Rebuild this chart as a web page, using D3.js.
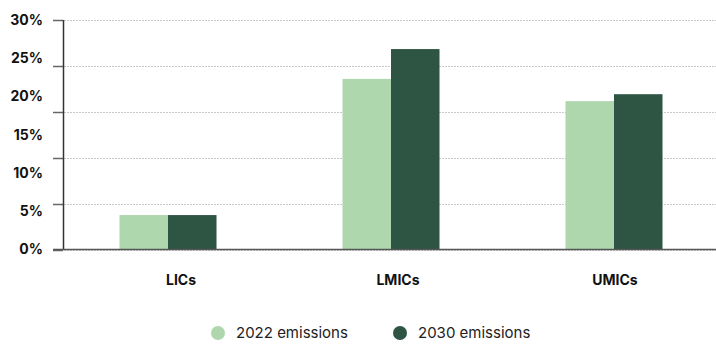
<!DOCTYPE html>
<html><head><meta charset="utf-8">
<script src="https://cdn.jsdelivr.net/npm/d3@7"></script>
<style>body{margin:0;background:#fff;} text{font-family:Inter, "Noto Sans", sans-serif;}</style>
</head><body><svg id="c" width="716" height="344"></svg>
<script>
const categories = ["LICs", "LMICs", "UMICs"];
const seriesNames = ["2022 emissions", "2030 emissions"];
const values2022 = [4.5, 22.3, 19.4];
const values2030 = [4.5, 26.2, 20.3];
const yLabelValues = [0, 5, 10, 15, 20, 25, 30];
const gridValues = [0, 6, 12, 18, 24, 30];
const colors = ["#aed7ae", "#2e5443"];

const svg = d3.select("#c");
const y = d3.scaleLinear().domain([0, 30]).range([249.5, 20]);
const xBars = d3.scaleBand().domain(categories).range([56.5, 725.5]).paddingInner(0.565).paddingOuter(0.2825);
const xInner = d3.scaleBand().domain(seriesNames).range([0, xBars.bandwidth()]);
const xLabels = d3.scalePoint().domain(categories).range([181, 615]);

// grid
svg.append("g").selectAll("line").data(gridValues).join("line")
  .attr("x1", 64).attr("x2", 716).attr("y1", d => Math.round(y(d)) + 0.5).attr("y2", d => Math.round(y(d)) + 0.5)
  .attr("stroke", "#c8c8c8").attr("stroke-width", 1).attr("stroke-dasharray", "2,1");

// tick marks
svg.append("g").selectAll("line").data(gridValues).join("line")
  .attr("x1", 53).attr("x2", 63).attr("y1", d => Math.round(y(d)) + 0.5).attr("y2", d => Math.round(y(d)) + 0.5)
  .attr("stroke", "#666").attr("stroke-width", 1.5);

// bars
const data = categories.map((c, i) => ({cat: c, vals: [values2022[i], values2030[i]]}));
const g = svg.append("g").selectAll("g").data(data).join("g")
  .attr("transform", d => `translate(${xBars(d.cat)},0)`);
g.selectAll("rect").data(d => d.vals.map((v, j) => ({v, s: seriesNames[j], j}))).join("rect")
  .attr("x", d => xInner(d.s)).attr("width", xInner.bandwidth())
  .attr("y", d => y(d.v)).attr("height", d => y(0) - y(d.v))
  .attr("fill", d => colors[d.j]);

// axes lines
svg.append("line").attr("x1", 63.5).attr("x2", 63.5).attr("y1", 20).attr("y2", 250).attr("stroke", "#333").attr("stroke-width", 1.5);
svg.append("line").attr("x1", 53).attr("x2", 716).attr("y1", 249.5).attr("y2", 249.5).attr("stroke", "#555").attr("stroke-width", 1.5);

// y labels
svg.append("g").selectAll("text").data(yLabelValues).join("text")
  .attr("x", 43).attr("y", d => y(d)).attr("dy", "0.35em").attr("text-anchor", "end")
  .attr("font-size", 14).attr("font-weight", 700).attr("fill", "#111")
  .text(d => d + "%");

// x labels
svg.append("g").selectAll("text").data(categories).join("text")
  .attr("x", d => xLabels(d)).attr("y", 280).attr("dy", "0.35em").attr("text-anchor", "middle")
  .attr("font-size", 14).attr("font-weight", 700).attr("fill", "#111")
  .text(d => d);

// legend
const legX = [218, 400];
const lg = svg.append("g").selectAll("g").data(seriesNames).join("g")
  .attr("transform", (d, i) => `translate(${legX[i]},333)`);
lg.append("circle").attr("r", 7).attr("fill", (d, i) => colors[i]);
lg.append("text").attr("x", 18).attr("dy", "0.35em").attr("font-size", 15).attr("fill", "#222").text(d => d);
</script></body></html>
